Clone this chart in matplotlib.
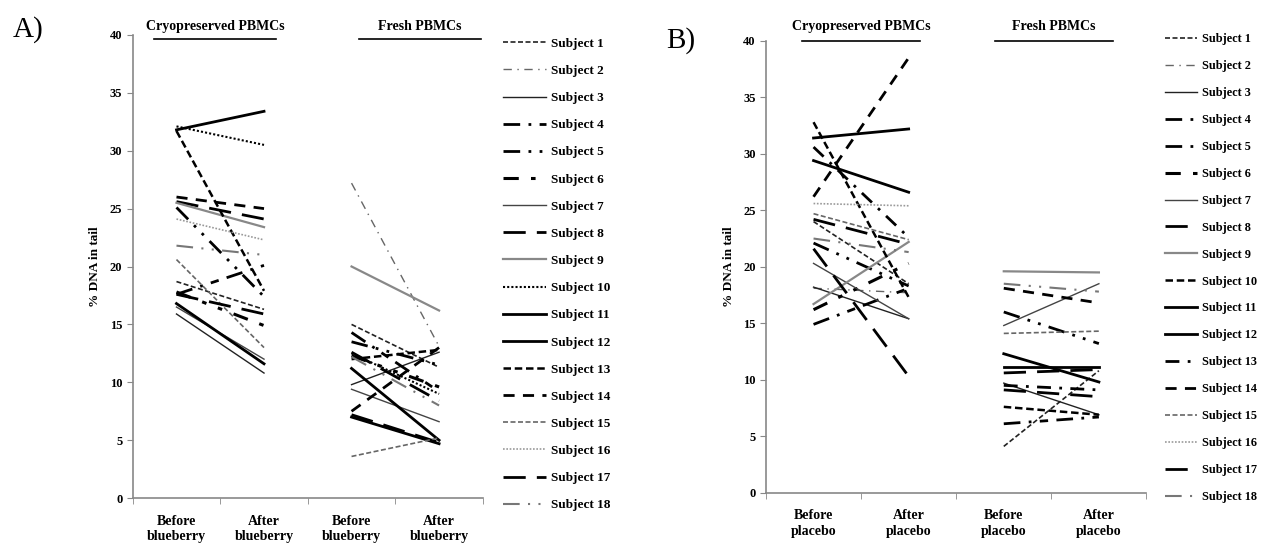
import numpy as np
import matplotlib
matplotlib.use("Agg")
from matplotlib import pyplot as plt
from matplotlib.lines import Line2D

plt.rcParams['font.family'] = ['Liberation Serif', 'DejaVu Serif']
plt.rcParams['font.weight'] = 'bold'

nan = np.nan
subjects = ["Subject %d" % i for i in range(1, 19)]

# panel A (blueberry)
a_xlabels = ["Before\nblueberry", "After\nblueberry", "Before\nblueberry", "After\nblueberry"]
a_cryo_before = [18.7, nan, 15.9, 17.6, 25.1, 17.8, 16.5, 25.6, 25.5, 32.1, 31.8, 16.8, 31.7, 26.0, 20.6, 24.1, 17.6, 21.8]
a_cryo_after = [16.3, nan, 10.8, 20.1, 17.4, 14.9, 12.0, 24.1, 23.4, 30.5, 33.4, 11.6, 17.9, 25.0, 13.0, 22.3, 15.9, 21.0]
a_fresh_before = [15.0, 27.2, 9.8, 14.3, 13.5, 12.3, 9.4, 7.2, 20.0, 12.5, 11.2, 7.0, 12.0, 7.5, 3.6, nan, 12.6, 12.2]
a_fresh_after = [11.3, 13.1, 12.6, 9.2, 11.5, 9.6, 6.6, 4.8, 16.2, 9.0, 5.0, 4.7, 12.8, 13.0, 5.2, nan, 8.4, 8.0]

# panel B (placebo)
b_xlabels = ["Before\nplacebo", "After\nplacebo", "Before\nplacebo", "After\nplacebo"]
b_cryo_before = [24.0, 18.1, 18.2, 14.9, 22.1, 16.2, 20.3, 24.2, 16.7, 32.8, 31.4, 29.4, 30.6, 26.2, 24.7, 25.6, 21.6, 22.5]
b_cryo_after = [18.5, 17.7, 15.4, 18.1, 18.3, 20.3, 15.4, 22.0, 22.2, 17.3, 32.2, 26.6, 22.6, 38.5, 22.4, 25.4, 10.3, 21.3]
b_fresh_before = [4.1, nan, 9.7, 6.1, 16.0, nan, 14.8, 9.1, 19.6, 7.6, 11.1, 12.3, 9.5, 18.1, 14.1, nan, 10.6, 18.5]
b_fresh_after = [10.8, nan, 6.9, 6.7, 13.2, nan, 18.5, 8.5, 19.5, 6.9, 11.1, 9.8, 9.1, 16.8, 14.3, nan, 10.9, 17.8]

# line styles: (color, linewidth, dashes)
base_styles = [
    ("#222222", 1.2, (0, (3, 1.5))),
    ("#666666", 1.0, (0, (6, 4, 1, 4))),
    ("#222222", 1.0, "-"),
    ("black", 2.0, (0, (6, 3, 1, 3, 3, 3))),
    ("black", 2.0, (0, (6, 3, 1, 3, 1, 3))),
    ("black", 2.2, (0, (5, 4, 1.5, 4, 1.5, 4))),
    ("#444444", 1.0, "-"),
    ("black", 2.0, (0, (8, 4))),
    ("#888888", 1.6, "-"),
    ("black", 1.5, (0, (1, 1))),
    ("black", 2.0, "-"),
    ("black", 2.0, "-"),
    ("black", 1.8, (0, (3, 1.5))),
    ("black", 2.0, (0, (4, 3))),
    ("#666666", 1.2, (0, (3, 1.5))),
    ("#999999", 1.2, (0, (1, 1))),
    ("black", 2.0, (0, (8, 4))),
    ("#777777", 1.5, (0, (8, 4, 1, 4, 1, 4))),
]
styles_a = list(base_styles)
styles_b = list(base_styles)
styles_b[9] = ("black", 1.8, (0, (3, 1.5)))
styles_b[12] = ("black", 2.0, (0, (5, 3, 1, 3)))

fig = plt.figure(figsize=(12.64, 5.45), dpi=100)


def draw_panel(rect, cb, ca, fb, fa, styles, xlabels, headers, head_x, head_w, head_y, line_y,
               legend_pos, leg_size, leg_hl, leg_sp, tag, tag_pos):
    ax = fig.add_axes(rect)
    for i in range(18):
        c, lw, ls = styles[i]
        ax.plot([0, 1], [cb[i], ca[i]], color=c, lw=lw, linestyle=ls)
        ax.plot([2, 3], [fb[i], fa[i]], color=c, lw=lw, linestyle=ls)
    ax.set_xlim(-0.5, 3.5)
    ax.set_ylim(0, 40)
    ax.set_yticks(range(0, 41, 5))
    ax.set_xticks(range(4))
    ax.set_xticklabels(xlabels, fontsize=10, fontweight='bold', linespacing=1.25)
    ax.set_xticks(np.arange(-0.5, 4, 1), minor=True)
    ax.tick_params(axis='x', which='major', length=0, pad=12)
    ax.tick_params(axis='x', which='minor', length=4, color='#888888')
    ax.tick_params(axis='y', length=4, color='#888888', labelsize=9)
    for lab in ax.get_yticklabels():
        lab.set_fontweight('bold')
    for s in ['top', 'right']:
        ax.spines[s].set_visible(False)
    for s in ['left', 'bottom']:
        ax.spines[s].set_color('#888888')
        ax.spines[s].set_linewidth(1.2)
    ax.set_ylabel("% DNA in tail", fontsize=9.5, fontweight='bold', labelpad=6)
    tr = ax.get_xaxis_transform()
    for xc, txt in zip(head_x, headers):
        ax.text(xc, head_y, txt, transform=tr, ha='center', va='bottom', fontsize=10, fontweight='bold')
        ax.plot([xc - head_w, xc + head_w], [line_y, line_y], transform=tr, color='black', lw=1.2, clip_on=False)
    handles = [Line2D([0], [0], color=c, lw=lw, linestyle=ls) for c, lw, ls in styles]
    fig.legend(handles, subjects, loc='upper left', bbox_to_anchor=legend_pos, frameon=False,
               prop={'size': leg_size, 'weight': 'bold'}, handlelength=leg_hl, handletextpad=0.4,
               labelspacing=leg_sp, borderpad=0)
    fig.text(tag_pos[0], tag_pos[1], tag, fontsize=21, fontweight='normal', ha='left', va='center')
    return ax


draw_panel([0.105, 0.086, 0.277, 0.85], a_cryo_before, a_cryo_after, a_fresh_before, a_fresh_after,
           styles_a, a_xlabels, ["Cryopreserved PBMCs", "Fresh PBMCs"], [0.44, 2.78], 0.7, 1.004, 0.991,
           (0.393, 0.943), 9.5, 3.2, 1.13, "A)", (0.01, 0.945))
draw_panel([0.606, 0.096, 0.301, 0.829], b_cryo_before, b_cryo_after, b_fresh_before, b_fresh_after,
           styles_b, b_xlabels, ["Cryopreserved PBMCs", "Fresh PBMCs"], [0.5, 2.53], 0.62, 1.018, 1.0,
           (0.917, 0.95), 8.8, 2.6, 1.22, "B)", (0.527, 0.925))

fig.savefig("out.png", dpi=100)
